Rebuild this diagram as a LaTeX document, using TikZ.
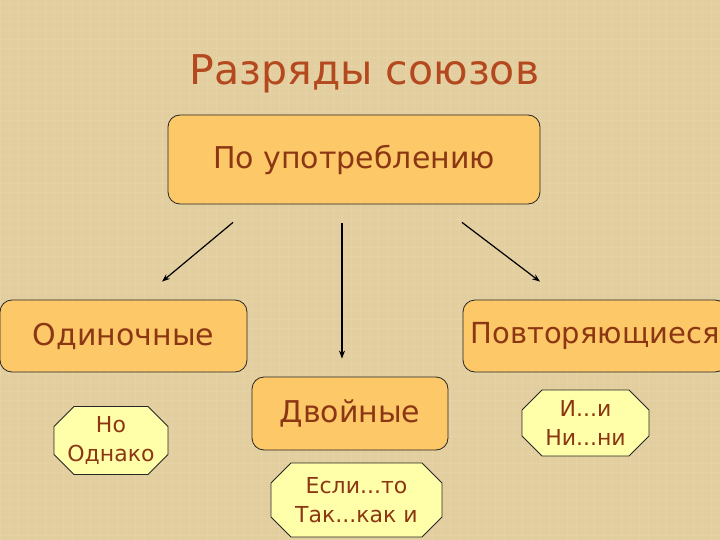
\documentclass[tikz,border=0pt]{standalone}
\usepackage{fontspec}
\setmainfont{DejaVu Sans}
\usetikzlibrary{shapes.misc,arrows.meta}
\definecolor{canvas}{RGB}{226,206,158}
\definecolor{weave}{RGB}{240,226,188}
\definecolor{boxfill}{RGB}{253,200,104}
\definecolor{notefill}{RGB}{255,255,170}
\definecolor{ink}{RGB}{140,55,20}
\definecolor{headink}{RGB}{180,72,30}
\tikzset{
  kind/.style={draw=black!85, line width=0.8pt, rounded corners=12pt, fill=boxfill,
    text=ink, font=\fontsize{30}{36}\selectfont, inner sep=0pt},
  note/.style={chamfered rectangle, chamfered rectangle xsep=10pt, chamfered rectangle ysep=10pt,
    draw=black!85, line width=0.8pt, fill=notefill, text=ink, align=center,
    font=\fontsize{22}{29}\selectfont, inner sep=0pt},
  arr/.style={-{Stealth[length=8pt,width=6pt]}, line width=1.2pt}
}
\begin{document}
\begin{tikzpicture}[x=1pt,y=-1pt]
			%%%%% BACKGROUND %%%%%
			\fill[canvas] (0,0) rectangle (720,540);
			\useasboundingbox (0,0) rectangle (720,540);
			\clip (0,0) rectangle (720,540);
			\foreach \k in {0,9,...,720} {
				\draw[weave, opacity=0.25, line width=1pt] (\k,0) -- (\k,540);
			}
			\foreach \k in {4,13,...,540} {
				\draw[weave, opacity=0.2, line width=1pt] (0,\k) -- (720,\k);
			}
			
			%%%%% TITLE %%%%%
			\node[text=headink, font=\fontsize{41}{48}\selectfont, anchor=base] (title) at (364.5,85) {Разряды союзов};
			
			%%%%% BOXES %%%%%
			\node[kind, minimum width=372pt, minimum height=89pt] (usage) at (354,159.5) {По употреблению};
			\node[kind, minimum width=247pt, minimum height=72pt] (single) at (123.5,336) {Одиночные};
			\node[kind, minimum width=196pt, minimum height=73pt] (double) at (350,413.5) {Двойные};
			\node[kind, minimum width=264pt, minimum height=72pt, font=\fontsize{29}{36}\selectfont] (repeat) at (595,336) {Повторяющиеся};
			
			%%%%% EXAMPLES %%%%%
			\node[note, minimum width=114pt, minimum height=65pt] (singlex) at (111,440.5) {Но\\Однако};
			\node[note, minimum width=171pt, minimum height=74pt] (doublex) at (356.5,500) {Если...то\\Так...как и};
			\node[note, minimum width=127pt, minimum height=66pt] (repeatx) at (585.5,423) {И...и\\Ни...ни};
			
			%%%%% ARROWS %%%%%
			\draw[arr] ([xshift=-121pt,yshift=-18pt]usage.south) -- ([xshift=38.5pt,yshift=18pt]single.north);
			\draw[arr] ([xshift=-12pt,yshift=-19pt]usage.south) -- ([xshift=-8pt,yshift=18pt]double.north);
			\draw[arr] ([xshift=108pt,yshift=-18pt]usage.south) -- ([xshift=-55pt,yshift=18pt]repeat.north);
			
			%%%%% END %%%%%
\end{tikzpicture}
\end{document}
